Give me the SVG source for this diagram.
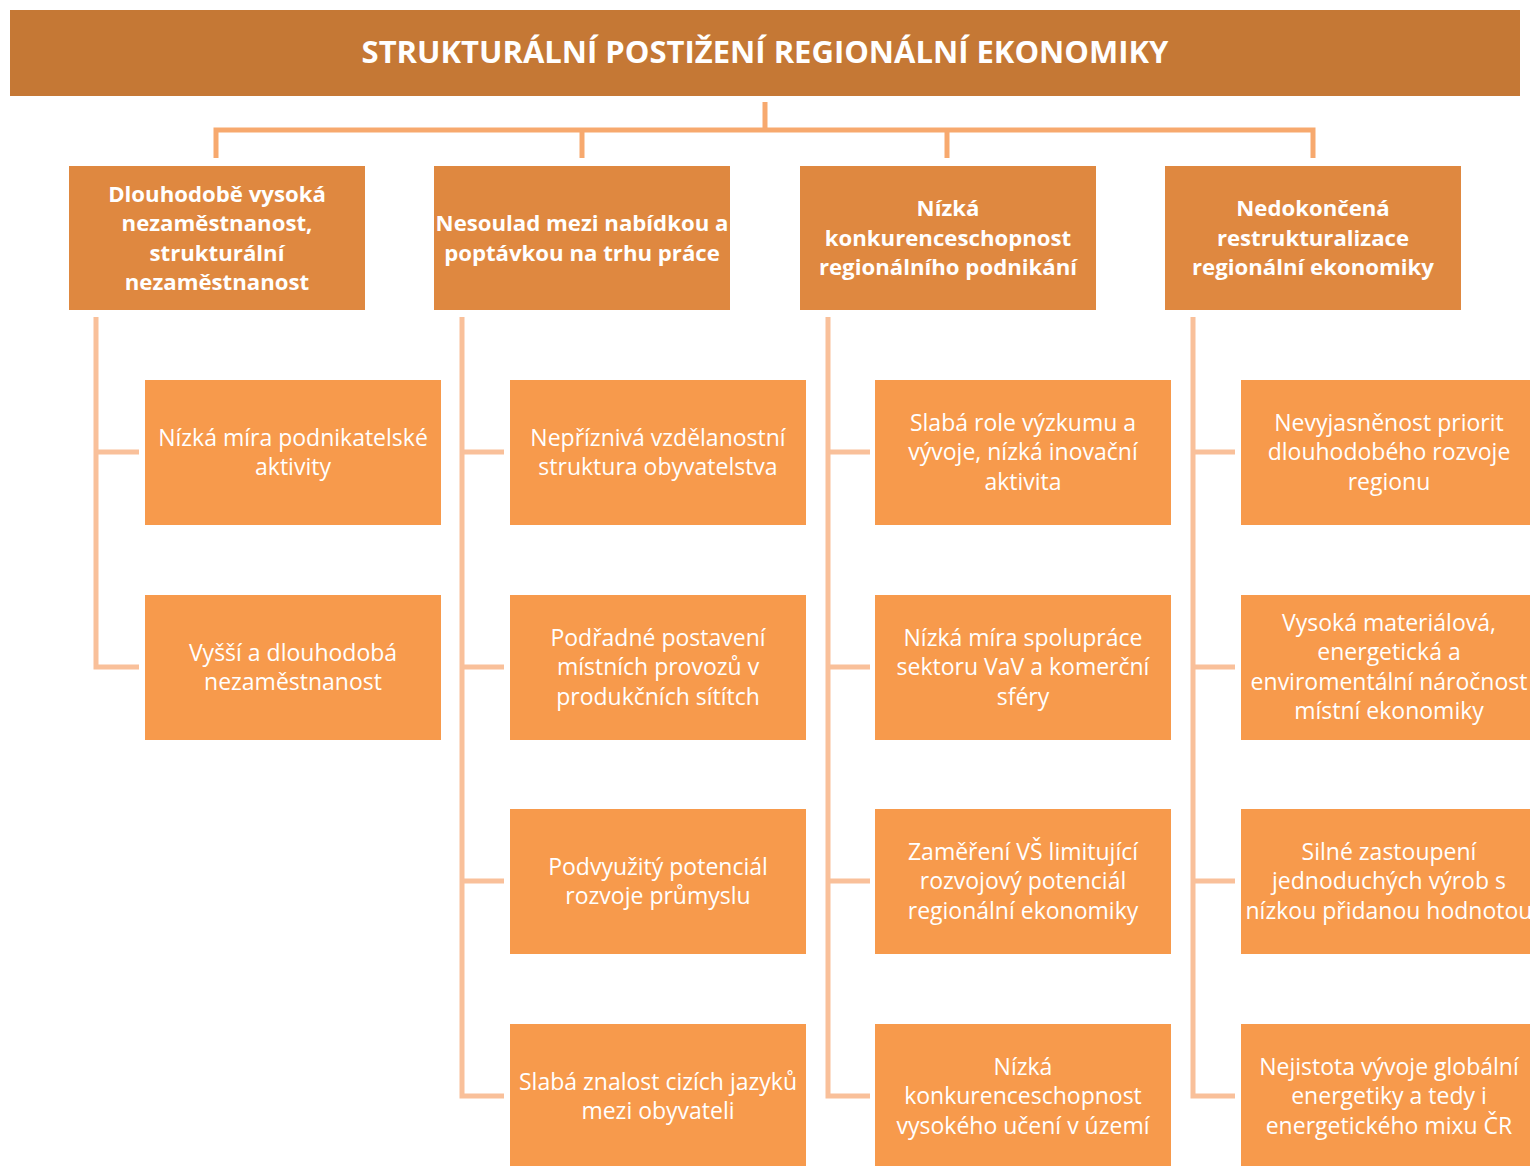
<svg xmlns="http://www.w3.org/2000/svg" width="1530" height="1166" viewBox="0 0 1530 1166">
<style>
.title{fill:#C57835}
.head{fill:#DF8840}
.item{fill:#F79A4C}
.tt{font-family:"Open Sans","Liberation Sans",sans-serif;font-weight:bold;font-size:31px;fill:#fff;text-anchor:middle}
.ht{font-family:"Open Sans","Liberation Sans",sans-serif;font-weight:bold;font-size:22.2px;fill:#fff;text-anchor:middle}
.it{font-family:"Open Sans","Liberation Sans",sans-serif;font-size:23px;fill:#fff;text-anchor:middle}
.c1{stroke:#F7A96E;stroke-width:5;fill:none}
.c2{stroke:#F9C09A;stroke-width:5;fill:none}
</style>
<rect width="1530" height="1166" fill="#fff"/>
<g id="connectors">
<path class="c1" d="M765 102V130M216 158V130H1313V158M582 130V158M947 130V158"/>
<path class="c2" d="M96 317V667H139M96 452H139"/>
<path class="c2" d="M462 317V1096H504M462 452H504M462 667H504M462 881H504"/>
<path class="c2" d="M828 317V1096H870M828 452H870M828 667H870M828 881H870"/>
<path class="c2" d="M1193 317V1096H1235M1193 452H1235M1193 667H1235M1193 881H1235"/>
</g>
<g id="title"><rect class="title" x="10" y="10" width="1510" height="86"/><text class="tt" x="765" y="63">STRUKTURÁLNÍ POSTIŽENÍ REGIONÁLNÍ EKONOMIKY</text></g>
<g id="h1"><rect class="head" x="69" y="166" width="296" height="144"/><text class="ht"><tspan x="217" y="201.5">Dlouhodobě vysoká</tspan><tspan x="217" y="231">nezaměstnanost,</tspan><tspan x="217" y="260.5">strukturální</tspan><tspan x="217" y="290">nezaměstnanost</tspan></text></g>
<g id="h2"><rect class="head" x="434" y="166" width="296" height="144"/><text class="ht"><tspan x="582" y="231">Nesoulad mezi nabídkou a</tspan><tspan x="582" y="260.5">poptávkou na trhu práce</tspan></text></g>
<g id="h3"><rect class="head" x="800" y="166" width="296" height="144"/><text class="ht"><tspan x="948" y="216">Nízká</tspan><tspan x="948" y="245.5">konkurenceschopnost</tspan><tspan x="948" y="275">regionálního podnikání</tspan></text></g>
<g id="h4"><rect class="head" x="1165" y="166" width="296" height="144"/><text class="ht"><tspan x="1313" y="216">Nedokončená</tspan><tspan x="1313" y="245.5">restrukturalizace</tspan><tspan x="1313" y="275">regionální ekonomiky</tspan></text></g>

<g id="a1"><rect class="item" x="145" y="380" width="296" height="145"/><text class="it"><tspan x="293" y="445.5">Nízká míra podnikatelské</tspan><tspan x="293" y="475">aktivity</tspan></text></g>
<g id="a2"><rect class="item" x="145" y="595" width="296" height="145"/><text class="it"><tspan x="293" y="660.5">Vyšší a dlouhodobá</tspan><tspan x="293" y="690">nezaměstnanost</tspan></text></g>

<g id="b1"><rect class="item" x="510" y="380" width="296" height="145"/><text class="it"><tspan x="658" y="445.5">Nepříznivá vzdělanostní</tspan><tspan x="658" y="475">struktura obyvatelstva</tspan></text></g>
<g id="b2"><rect class="item" x="510" y="595" width="296" height="145"/><text class="it"><tspan x="658" y="645.5">Podřadné postavení</tspan><tspan x="658" y="675">místních provozů v</tspan><tspan x="658" y="704.5">produkčních sítítch</tspan></text></g>
<g id="b3"><rect class="item" x="510" y="809" width="296" height="145"/><text class="it"><tspan x="658" y="874.5">Podvyužitý potenciál</tspan><tspan x="658" y="904">rozvoje průmyslu</tspan></text></g>
<g id="b4"><rect class="item" x="510" y="1024" width="296" height="145"/><text class="it"><tspan x="658" y="1089.5">Slabá znalost cizích jazyků</tspan><tspan x="658" y="1119">mezi obyvateli</tspan></text></g>

<g id="c1"><rect class="item" x="875" y="380" width="296" height="145"/><text class="it"><tspan x="1023" y="430.5">Slabá role výzkumu a</tspan><tspan x="1023" y="460">vývoje, nízká inovační</tspan><tspan x="1023" y="489.5">aktivita</tspan></text></g>
<g id="c2"><rect class="item" x="875" y="595" width="296" height="145"/><text class="it"><tspan x="1023" y="645.5">Nízká míra spolupráce</tspan><tspan x="1023" y="675">sektoru VaV a komerční</tspan><tspan x="1023" y="704.5">sféry</tspan></text></g>
<g id="c3"><rect class="item" x="875" y="809" width="296" height="145"/><text class="it"><tspan x="1023" y="859.5">Zaměření VŠ limitující</tspan><tspan x="1023" y="889">rozvojový potenciál</tspan><tspan x="1023" y="918.5">regionální ekonomiky</tspan></text></g>
<g id="c4"><rect class="item" x="875" y="1024" width="296" height="145"/><text class="it"><tspan x="1023" y="1074.5">Nízká</tspan><tspan x="1023" y="1104">konkurenceschopnost</tspan><tspan x="1023" y="1133.5">vysokého učení v území</tspan></text></g>

<g id="d1"><rect class="item" x="1241" y="380" width="296" height="145"/><text class="it"><tspan x="1389" y="430.5">Nevyjasněnost priorit</tspan><tspan x="1389" y="460">dlouhodobého rozvoje</tspan><tspan x="1389" y="489.5">regionu</tspan></text></g>
<g id="d2"><rect class="item" x="1241" y="595" width="296" height="145"/><text class="it"><tspan x="1389" y="630.5">Vysoká materiálová,</tspan><tspan x="1389" y="660">energetická a</tspan><tspan x="1389" y="689.5">enviromentální náročnost</tspan><tspan x="1389" y="719">místní ekonomiky</tspan></text></g>
<g id="d3"><rect class="item" x="1241" y="809" width="296" height="145"/><text class="it"><tspan x="1389" y="859.5">Silné zastoupení</tspan><tspan x="1389" y="889">jednoduchých výrob s</tspan><tspan x="1389" y="918.5">nízkou přidanou hodnotou</tspan></text></g>
<g id="d4"><rect class="item" x="1241" y="1024" width="296" height="145"/><text class="it"><tspan x="1389" y="1074.5">Nejistota vývoje globální</tspan><tspan x="1389" y="1104">energetiky a tedy i</tspan><tspan x="1389" y="1133.5">energetického mixu ČR</tspan></text></g>
</svg>
